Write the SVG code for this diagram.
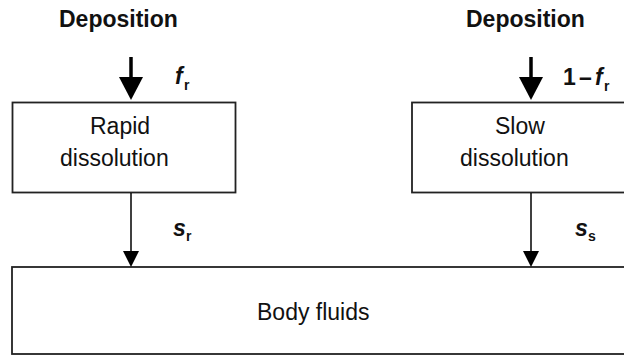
<svg xmlns="http://www.w3.org/2000/svg" width="624" height="356" viewBox="0 0 624 356">
<style>
.box{fill:#fff;stroke:#222;stroke-width:1.8}
.t{font-family:"Liberation Sans",Arial,sans-serif;font-size:23px;fill:#111}
.b{font-weight:bold}
.bi{font-weight:bold;font-style:italic}
.sub{font-family:"Liberation Sans",Arial,sans-serif;font-size:14px;font-weight:bold;fill:#111}
.thick{stroke:#000;stroke-width:3.5}
.thin{stroke:#000;stroke-width:1.5}
</style>
<rect width="624" height="356" fill="#fff"/>
<g id="dep-left"><text class="t b" x="59" y="27">Deposition</text></g>
<g id="dep-right"><text class="t b" x="466" y="27">Deposition</text></g>
<g id="rapid">
<rect class="box" x="12.5" y="102.5" width="223" height="90"/>
<text class="t" x="90" y="134">Rapid</text>
<text class="t" x="60" y="166">dissolution</text>
</g>
<g id="slow">
<rect class="box" x="412" y="102.5" width="240" height="90"/>
<text class="t" x="495" y="134">Slow</text>
<text class="t" x="460" y="166">dissolution</text>
</g>
<g id="body">
<rect class="box" x="12" y="267" width="640" height="87"/>
<text class="t" x="257" y="320">Body fluids</text>
</g>
<g id="connectors">
<line class="thick" x1="131" y1="57" x2="131" y2="80"/>
<polygon points="119,77 143,77 131,100"/>
<line class="thick" x1="531" y1="57" x2="531" y2="80"/>
<polygon points="519,77 543,77 531,100"/>
<line class="thin" x1="131" y1="193" x2="131" y2="255"/>
<polygon points="123,251 139,251 131,267"/>
<line class="thin" x1="531" y1="193" x2="531" y2="255"/>
<polygon points="523,251 539,251 531,267"/>
</g>
<g id="labels">
<text class="t bi" x="175" y="84">f</text><text class="sub" x="184" y="90">r</text>
<text class="t b" x="563" y="85">1</text><text class="t b" x="579" y="85">–</text><text class="t bi" x="595" y="85">f</text><text class="sub" x="604" y="91">r</text>
<text class="t bi" x="173" y="236">s</text><text class="sub" x="186" y="241">r</text>
<text class="t bi" x="575" y="236">s</text><text class="sub" x="588" y="241">s</text>
</g>
</svg>
